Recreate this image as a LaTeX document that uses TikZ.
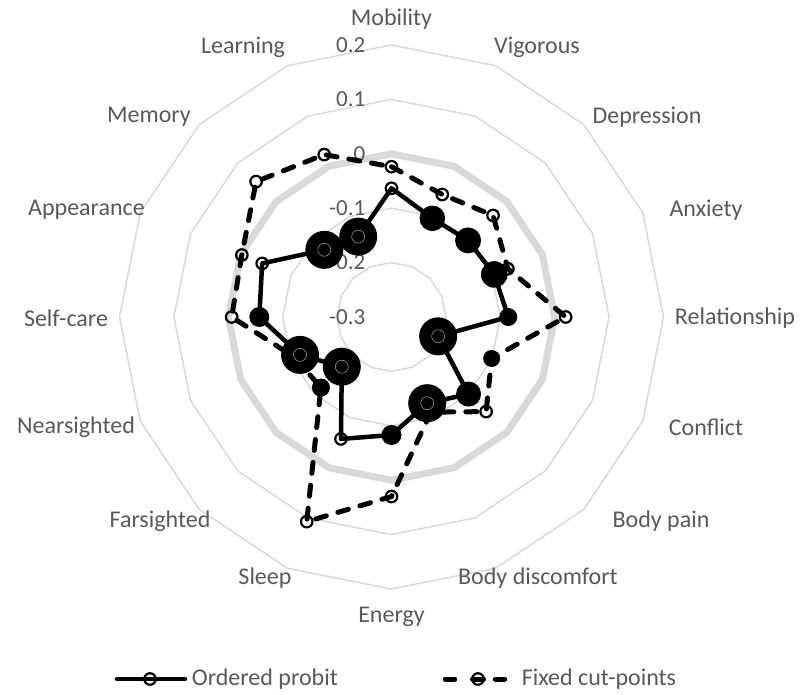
\documentclass[tikz,border=0pt]{standalone}
\usepackage{fontspec}
\setmainfont{Carlito}
\definecolor{gridc}{HTML}{D9D9D9}
\definecolor{txtc}{HTML}{595959}
\tikzset{
  ringline/.style={draw=gridc, line width=1.5pt},
  zeroline/.style={draw=gridc, line width=7pt},
  catlabel/.style={text=txtc, font=\fontsize{24}{28}\selectfont, inner sep=0pt},
  ticklabel/.style={text=txtc, font=\fontsize{23}{27}\selectfont, inner sep=0pt, anchor=east},
  probitline/.style={draw=black, line width=4.5pt, line join=round},
  fixedline/.style={draw=black, line width=5pt, line cap=round, dash pattern=on 11pt off 12pt},
  openmark/.style={circle, draw=black, line width=2.2pt, minimum size=11.5pt, inner sep=0pt},
  dotmark/.style={circle, fill=black, inner sep=0pt, minimum size=#1},
  coremark/.style={circle, draw=gray!70, line width=0.5pt, minimum size=13pt, inner sep=0pt},
}
\begin{document}
\begin{tikzpicture}[x=1pt,y=1pt]
\useasboundingbox (-391.5,-378) rectangle (408.5,317);
% grid rings
\foreach \n in {1,2,4,5}{
  \draw[ringline] (90:{\n*54.4}) \foreach \k in {1,...,15}{ -- ({90-22.5*\k}:{\n*54.4})} -- cycle;
}
\draw[zeroline] (90:163.2) \foreach \k in {1,...,15}{ -- ({90-22.5*\k}:163.2)} -- cycle;
% value labels
\node[ticklabel] (t5) at (-26,272) {0.2};
\node[ticklabel] (t4) at (-26,217.6) {0.1};
\node[ticklabel] (t3) at (-26,163.2) {0};
\node[ticklabel] (t2) at (-26,108.8) {-0.1};
\node[ticklabel] (t1) at (-26,54.4) {-0.2};
\node[ticklabel] (t0) at (-26,0) {-0.3};
% category labels
\node[catlabel] (c0) at (0,298) {Mobility};
\node[catlabel] (c1) at (145.5,270) {Vigorous};
\node[catlabel] (c2) at (255.5,200) {Depression};
\node[catlabel] (c3) at (314.5,107) {Anxiety};
\node[catlabel] (c4) at (343.5,-1) {Relationship};
\node[catlabel] (c5) at (314.5,-110) {Conflict};
\node[catlabel] (c6) at (269.5,-204) {Body pain};
\node[catlabel] (c7) at (146.5,-261) {Body discomfort};
\node[catlabel] (c8) at (0,-300) {Energy};
\node[catlabel] (c9) at (-126.5,-261) {Sleep};
\node[catlabel] (c10) at (-231.5,-204) {Farsighted};
\node[catlabel] (c11) at (-315.5,-110) {Nearsighted};
\node[catlabel] (c12) at (-325.5,-1) {Self-care};
\node[catlabel] (c13) at (-305,107) {Appearance};
\node[catlabel] (c14) at (-242.5,200) {Memory};
\node[catlabel] (c15) at (-148.5,270) {Learning};
% data points
\foreach \k/\r in {0/150.3,1/132.6,2/143.6,3/126,4/174.2,5/108.4,6/133.8,7/103,8/179.5,9/221.5,10/99.8,11/105,12/159.8,13/162,14/191.5,15/175.8}
  \coordinate (fp\k) at ({90-22.5*\k}:\r);
\foreach \k/\r in {0/128.7,1/106.8,2/108.3,3/111.2,4/116.8,5/50.5,6/109,7/93.3,8/118,9/132,10/70.3,11/99,12/132.2,13/140,14/95,15/87}
  \coordinate (pp\k) at ({90-22.5*\k}:\r);
% fixed cut-points series
\draw[fixedline] (fp0) \foreach \k in {1,...,15}{ -- (fp\k)} -- cycle;
\foreach \k in {0,1,2,3,4,6,7,8,9,11,12,13,14,15}
  \node[openmark] (fm\k) at (fp\k) {};
\node[dotmark=17pt] (fm5) at (fp5) {};
\node[dotmark=18pt] (fm10) at (fp10) {};
% ordered probit series
\draw[probitline] (pp0) \foreach \k in {1,...,15}{ -- (pp\k)} -- cycle;
\foreach \k in {0,9,13}
  \node[openmark] (pm\k) at (pp\k) {};
\foreach \k/\s in {1/25.6pt,2/26pt,3/26.6pt,4/18pt,6/25pt,8/20pt,12/20pt}
  \node[dotmark=\s] (pm\k) at (pp\k) {};
\foreach \k in {5,7,10,11,14,15}{
  \node[dotmark=38pt] (pm\k) at (pp\k) {};
  \node[coremark] (pc\k) at (pp\k) {};
}
% legend
\node[openmark] (lm1) at (-241.5,-362) {};
\coordinate (la) at (-274.5,-362);
\coordinate (lb) at (-206.5,-362);
\draw[line width=4.5pt, line cap=round] (la) -- (lb);
\node[catlabel, anchor=west] (lt1) at (-199.8,-362) {Ordered probit};
\node[openmark] (lm2) at (86.5,-362) {};
\coordinate (d1a) at (53.75,-362);
\coordinate (d1b) at (63.25,-362);
\coordinate (d2a) at (81,-362);
\coordinate (d2b) at (92,-362);
\coordinate (d3a) at (103.75,-362);
\coordinate (d3b) at (113.25,-362);
\draw[line width=5pt, line cap=round] (d1a) -- (d1b) (d2a) -- (d2b) (d3a) -- (d3b);
\node[catlabel, anchor=west] (lt2) at (130.2,-362) {Fixed cut-points};
\end{tikzpicture}
\end{document}
